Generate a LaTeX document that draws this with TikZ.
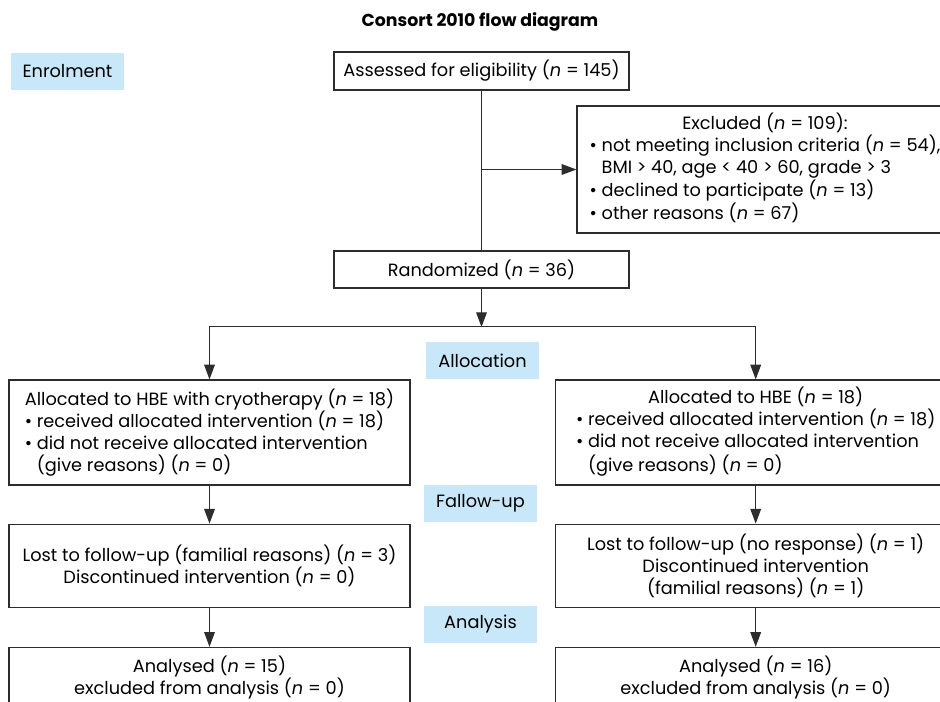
\documentclass[tikz,border=0pt]{standalone}
\usepackage{fontspec}
\setmainfont{Poppins}
\usetikzlibrary{arrows.meta, positioning}
\definecolor{stage}{RGB}{200, 231, 248}
\definecolor{frame}{RGB}{45, 45, 45}
\newcommand{\boxfont}{\fontsize{13.3}{16.6}\selectfont}
\newcommand{\nn}{\textit{n}}
\newcommand{\bulletpad}{\phantom{\textbullet\ }}

\begin{document}
\begin{tikzpicture}[
        x=0.75pt, y=-0.75pt,
        node distance=28.5pt and 108pt,
        block/.style={rectangle, draw=frame, line width=0.9pt, fill=white,
                      minimum width=300.75pt, minimum height=78.75pt,
                      inner sep=0pt, align=center, font=\boxfont},
        stagebox/.style={rectangle, fill=stage, minimum width=84.75pt,
                         minimum height=27.75pt, font=\boxfont},
        link/.style={draw=frame, line width=0.75pt},
        arrow/.style={link, -{Triangle[length=11pt, width=8pt]}},
    ]
        \useasboundingbox (0,0) rectangle (940,702);
        \clip (0,0) rectangle (940,702);

        \node[font=\fontsize{13}{16}\selectfont\bfseries] (title) at (480,22) {Consort 2010 flow diagram};

        \node[stagebox] (enrol) at (67.5,71.5) {Enrolment};
        \node[block, minimum width=221.25pt, minimum height=28.5pt] (assess) at (481.5,71)
            {Assessed for eligibility (\nn{} = 145)};
        \node[block, minimum width=282pt, minimum height=95.25pt] (excl) at (765,169.5)
            {Excluded (\nn{} = 109):\\
             \begin{tabular}[t]{@{}l@{}}
             \textbullet\ not meeting inclusion criteria (\nn{} = 54),\\
             \bulletpad BMI > 40, age < 40 > 60, grade > 3\\
             \textbullet\ declined to participate (\nn{} = 13)\\
             \textbullet\ other reasons (\nn{} = 67)
             \end{tabular}};
        \node[block, minimum width=221.25pt, minimum height=27.75pt] (rand) at (481.5,269.5)
            {Randomized (\nn{} = 36)};
        \coordinate (split) at (481.5,327);

        \node[block, align=left] (alloc1) at (209.5,432.5)
            {Allocated to HBE with cryotherapy (\nn{} = 18)\\
             \textbullet\ received allocated intervention (\nn{} = 18)\\
             \textbullet\ did not receive allocated intervention\\
             \bulletpad(give reasons) (\nn{} = 0)};
        \node[block, right=of alloc1] (alloc2)
            {Allocated to HBE (\nn{} = 18)\\
             \begin{tabular}[t]{@{}l@{}}
             \textbullet\ received allocated intervention (\nn{} = 18)\\
             \textbullet\ did not receive allocated intervention\\
             \bulletpad(give reasons) (\nn{} = 0)
             \end{tabular}};

        \node[block, minimum height=62.25pt, below=of alloc1] (lost1)
            {Lost to follow-up (familial reasons) (\nn{} = 3)\\
             Discontinued intervention (\nn{} = 0)};
        \node[block, minimum height=62.25pt, below=of alloc2] (lost2)
            {Lost to follow-up (no response) (\nn{} = 1)\\
             Discontinued intervention\\
             (familial reasons) (\nn{} = 1)};

        \node[block, minimum height=45pt, below=29.25pt of lost1] (anal1)
            {Analysed (\nn{} = 15)\\ excluded from analysis (\nn{} = 0)};
        \node[block, minimum height=45pt, below=29.25pt of lost2] (anal2)
            {Analysed (\nn{} = 16)\\ excluded from analysis (\nn{} = 0)};

        \node[stagebox] (allocation) at (482.5,360.5) {Allocation};
        \node[stagebox] (followup) at (480.5,503.5) {Fallow-up};
        \node[stagebox] (analysis) at (480.5,624.5) {Analysis};

        \coordinate (branch) at (assess.south |- excl.west);
        \draw[link] (assess) -- (rand);
        \draw[arrow] (branch) -- (excl);
        \draw[arrow] (rand) -- (split);
        \draw[arrow] (split) -| (alloc1);
        \draw[arrow] (split) -| (alloc2);
        \draw[arrow] (alloc1) -- (lost1);
        \draw[arrow] (alloc2) -- (lost2);
        \draw[arrow] (lost1) -- (anal1);
        \draw[arrow] (lost2) -- (anal2);

    \end{tikzpicture}
\end{document}
